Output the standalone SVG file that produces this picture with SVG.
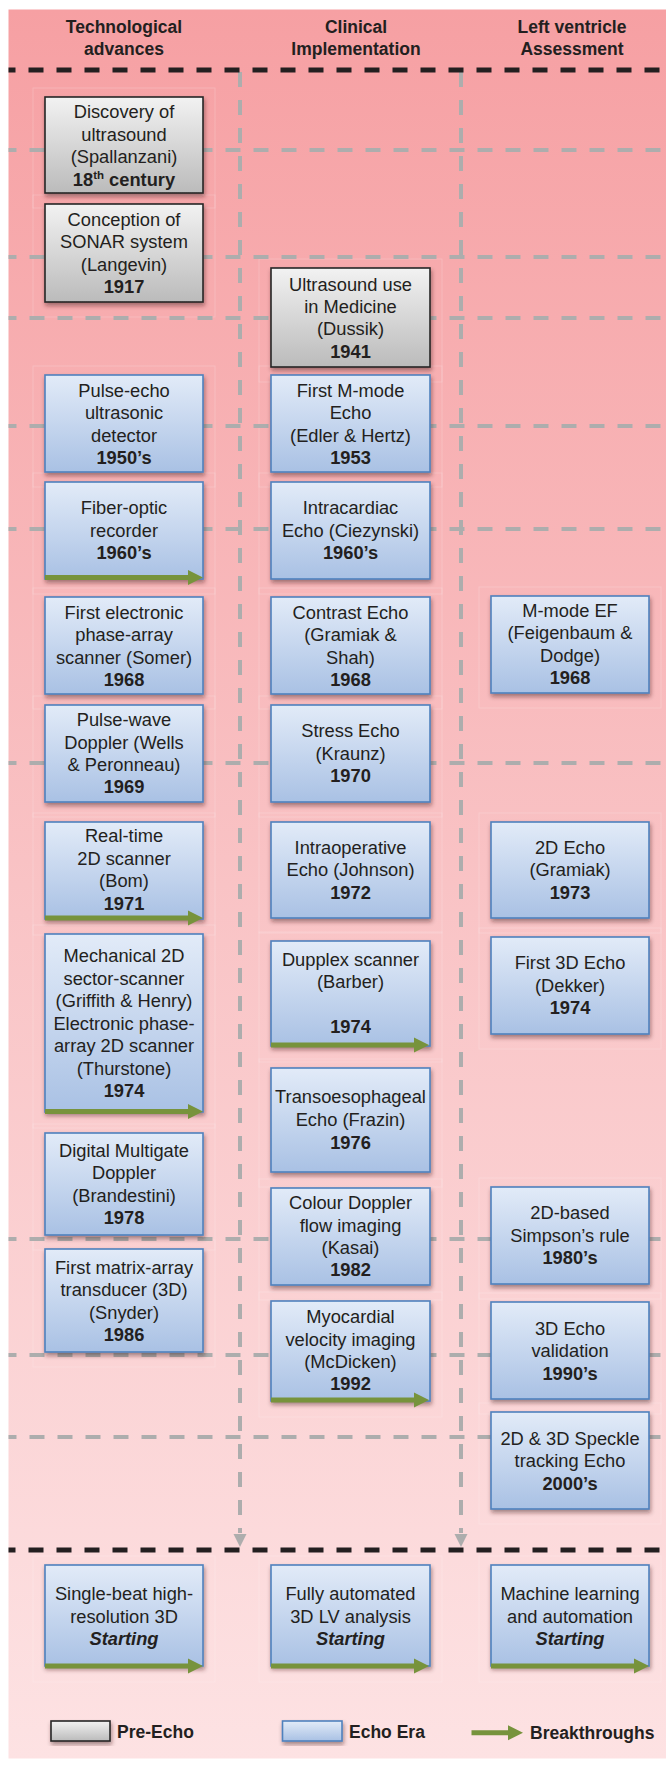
<svg xmlns="http://www.w3.org/2000/svg" xmlns:xlink="http://www.w3.org/1999/xlink" width="666" height="1765" viewBox="0 0 666 1765">
<defs>
<linearGradient id="bg" x1="0" y1="0" x2="0" y2="1">
<stop offset="0" stop-color="#F6A0A3"/>
<stop offset="0.5" stop-color="#F9C3C5"/>
<stop offset="1" stop-color="#FDE2E3"/>
</linearGradient>
<linearGradient id="gBlue" x1="0" y1="0" x2="0" y2="1">
<stop offset="0" stop-color="#E2EBF8"/>
<stop offset="1" stop-color="#A9C1E4"/>
</linearGradient>
<linearGradient id="gGray" x1="0" y1="0" x2="0" y2="1">
<stop offset="0" stop-color="#F2F2F2"/>
<stop offset="1" stop-color="#BBBBBB"/>
</linearGradient>
<filter id="sh" x="-10%" y="-10%" width="125%" height="135%">
<feDropShadow dx="1" dy="3" stdDeviation="2" flood-color="#3a1a1a" flood-opacity="0.45"/>
</filter>
<path id="brk" d="M0,-2.5 H143 V-7.5 L158,0 L143,7.5 V2.5 H0 Z" fill="#77933C"/>
<style>
.t{font-family:"Liberation Sans",Arial,sans-serif;font-size:18.3px;fill:#231F20;text-anchor:middle}
.b{font-weight:bold}
.bi{font-weight:bold;font-style:italic}
.h{font-family:"Liberation Sans",Arial,sans-serif;font-size:17.5px;font-weight:bold;fill:#231F20;text-anchor:middle}
.lg{font-family:"Liberation Sans",Arial,sans-serif;font-size:17.5px;font-weight:bold;fill:#231F20}
.blue{fill:url(#gBlue);stroke:#4F81BD;stroke-width:1.6;filter:url(#sh)}
.gray{fill:url(#gGray);stroke:#262626;stroke-width:1.6;filter:url(#sh)}
.fr{fill:none;stroke:#FFFFFF;stroke-opacity:0.18;stroke-width:1}
.gd{stroke:#ADADAD;stroke-width:4;stroke-dasharray:15 13;fill:none}
.kd{stroke:#231F20;stroke-width:5;stroke-dasharray:15 13;fill:none}
</style>
</defs>

<rect x="8.5" y="9.5" width="657.5" height="1749" fill="url(#bg)"/>

<g id="frames">
<rect class="fr" x="33" y="88" width="182" height="120"/>
<rect class="fr" x="33" y="195" width="182" height="122"/>
<rect class="fr" x="33" y="366" width="182" height="121"/>
<rect class="fr" x="33" y="473" width="182" height="121"/>
<rect class="fr" x="33" y="588" width="182" height="121"/>
<rect class="fr" x="33" y="696" width="182" height="121"/>
<rect class="fr" x="33" y="813" width="182" height="122"/>
<rect class="fr" x="33" y="925" width="182" height="203"/>
<rect class="fr" x="33" y="1124" width="182" height="126"/>
<rect class="fr" x="33" y="1240" width="182" height="127"/>
<rect class="fr" x="259" y="259" width="183" height="123"/>
<rect class="fr" x="259" y="366" width="183" height="121"/>
<rect class="fr" x="259" y="473" width="183" height="121"/>
<rect class="fr" x="259" y="588" width="183" height="121"/>
<rect class="fr" x="259" y="696" width="183" height="121"/>
<rect class="fr" x="259" y="813" width="183" height="120"/>
<rect class="fr" x="259" y="932" width="183" height="130"/>
<rect class="fr" x="259" y="1059" width="183" height="128"/>
<rect class="fr" x="259" y="1179" width="183" height="121"/>
<rect class="fr" x="259" y="1292" width="183" height="125"/>
<rect class="fr" x="479" y="587" width="182" height="121"/>
<rect class="fr" x="479" y="813" width="182" height="120"/>
<rect class="fr" x="479" y="928" width="182" height="121"/>
<rect class="fr" x="479" y="1178" width="182" height="121"/>
<rect class="fr" x="479" y="1293" width="182" height="121"/>
<rect class="fr" x="479" y="1403" width="182" height="121"/>
<rect class="fr" x="33" y="1556" width="182" height="126"/>
<rect class="fr" x="259" y="1556" width="183" height="126"/>
<rect class="fr" x="479" y="1556" width="182" height="126"/>
</g>

<g id="connectors">
<g id="grid-h">
<line class="gd" x1="8.5" y1="150" x2="666" y2="150" stroke-dashoffset="7"/>
<line class="gd" x1="8.5" y1="257" x2="666" y2="257" stroke-dashoffset="7"/>
<line class="gd" x1="8.5" y1="318" x2="666" y2="318" stroke-dashoffset="7"/>
<line class="gd" x1="8.5" y1="426" x2="666" y2="426" stroke-dashoffset="7"/>
<line class="gd" x1="8.5" y1="529" x2="666" y2="529" stroke-dashoffset="7"/>
<line class="gd" x1="8.5" y1="763" x2="666" y2="763" stroke-dashoffset="7"/>
<line class="gd" x1="8.5" y1="1239" x2="666" y2="1239" stroke-dashoffset="7"/>
<line class="gd" x1="8.5" y1="1355" x2="666" y2="1355" stroke-dashoffset="7"/>
<line class="gd" x1="8.5" y1="1437" x2="666" y2="1437" stroke-dashoffset="7"/>
</g>
<g id="timeline-arrows">
<line class="gd" x1="240" y1="72" x2="240" y2="1533"/>
<line class="gd" x1="461" y1="72" x2="461" y2="1533"/>
<polygon points="233.5,1534 246.5,1534 240,1547" fill="#ADADAD"/>
<polygon points="454.5,1534 467.5,1534 461,1547" fill="#ADADAD"/>
</g>
<line class="kd" x1="8.5" y1="70" x2="666" y2="70" stroke-dashoffset="8"/>
<line class="kd" x1="8.5" y1="1550" x2="666" y2="1550" stroke-dashoffset="8"/>
</g>

<g id="headers">
<text class="h" x="124" y="32.5">Technological</text>
<text class="h" x="124" y="55">advances</text>
<text class="h" x="356" y="32.5">Clinical</text>
<text class="h" x="356" y="55">Implementation</text>
<text class="h" x="572" y="32.5">Left ventricle</text>
<text class="h" x="572" y="55">Assessment</text>
</g>

<!-- Column 1 -->
<g id="n-discovery">
<rect class="gray" x="45" y="97" width="158" height="96"/>
<text class="t"><tspan x="124" y="118">Discovery of</tspan><tspan x="124" y="140.5">ultrasound</tspan><tspan x="124" y="163">(Spallanzani)</tspan></text>
<text class="t b" x="124" y="185.5">18<tspan font-size="11.5" dy="-7">th</tspan><tspan dy="7"> century</tspan></text>
</g>
<g id="n-sonar">
<rect class="gray" x="45" y="204" width="158" height="98"/>
<text class="t"><tspan x="124" y="225.5">Conception of</tspan><tspan x="124" y="248">SONAR system</tspan><tspan x="124" y="270.5">(Langevin)</tspan></text>
<text class="t b" x="124" y="293">1917</text>
</g>
<g id="n-pulse-echo">
<rect class="blue" x="45" y="375" width="158" height="97"/>
<text class="t"><tspan x="124" y="396.5">Pulse-echo</tspan><tspan x="124" y="419">ultrasonic</tspan><tspan x="124" y="441.5">detector</tspan></text>
<text class="t b" x="124" y="464">1950’s</text>
</g>
<g id="n-fiber">
<rect class="blue" x="45" y="482" width="158" height="97"/>
<text class="t"><tspan x="124" y="514">Fiber-optic</tspan><tspan x="124" y="536.5">recorder</tspan></text>
<text class="t b" x="124" y="559">1960’s</text>
<use href="#brk" x="45" y="577.5"/>
</g>
<g id="n-phase-array">
<rect class="blue" x="45" y="597" width="158" height="97"/>
<text class="t"><tspan x="124" y="618.5">First electronic</tspan><tspan x="124" y="641">phase-array</tspan><tspan x="124" y="663.5">scanner (Somer)</tspan></text>
<text class="t b" x="124" y="686">1968</text>
</g>
<g id="n-pulse-wave">
<rect class="blue" x="45" y="705" width="158" height="97"/>
<text class="t"><tspan x="124" y="726">Pulse-wave</tspan><tspan x="124" y="748.5">Doppler (Wells</tspan><tspan x="124" y="771">&amp; Peronneau)</tspan></text>
<text class="t b" x="124" y="793">1969</text>
</g>
<g id="n-realtime">
<rect class="blue" x="45" y="822" width="158" height="97"/>
<text class="t"><tspan x="124" y="842">Real-time</tspan><tspan x="124" y="864.5">2D scanner</tspan><tspan x="124" y="887">(Bom)</tspan></text>
<text class="t b" x="124" y="909.5">1971</text>
<use href="#brk" x="45" y="918"/>
</g>
<g id="n-mechanical">
<rect class="blue" x="45" y="934" width="158" height="178"/>
<text class="t"><tspan x="124" y="962">Mechanical 2D</tspan><tspan x="124" y="984.5">sector-scanner</tspan><tspan x="124" y="1007">(Griffith &amp; Henry)</tspan><tspan x="124" y="1029.5">Electronic phase-</tspan><tspan x="124" y="1052">array 2D scanner</tspan><tspan x="124" y="1074.5">(Thurstone)</tspan></text>
<text class="t b" x="124" y="1097">1974</text>
<use href="#brk" x="45" y="1111.5"/>
</g>
<g id="n-multigate">
<rect class="blue" x="45" y="1133" width="158" height="102"/>
<text class="t"><tspan x="124" y="1156.5">Digital Multigate</tspan><tspan x="124" y="1179">Doppler</tspan><tspan x="124" y="1201.5">(Brandestini)</tspan></text>
<text class="t b" x="124" y="1224">1978</text>
</g>
<g id="n-matrix">
<rect class="blue" x="45" y="1249" width="158" height="103"/>
<text class="t"><tspan x="124" y="1273.5">First matrix-array</tspan><tspan x="124" y="1296">transducer (3D)</tspan><tspan x="124" y="1318.5">(Snyder)</tspan></text>
<text class="t b" x="124" y="1341">1986</text>
</g>

<!-- Column 2 -->
<g id="n-dussik">
<rect class="gray" x="271" y="268" width="159" height="99"/>
<text class="t"><tspan x="350.5" y="290.5">Ultrasound use</tspan><tspan x="350.5" y="312.5">in Medicine</tspan><tspan x="350.5" y="335">(Dussik)</tspan></text>
<text class="t b" x="350.5" y="357.5">1941</text>
</g>
<g id="n-mmode">
<rect class="blue" x="271" y="375" width="159" height="97"/>
<text class="t"><tspan x="350.5" y="396.5">First M-mode</tspan><tspan x="350.5" y="419">Echo</tspan><tspan x="350.5" y="441.5">(Edler &amp; Hertz)</tspan></text>
<text class="t b" x="350.5" y="464">1953</text>
</g>
<g id="n-intracardiac">
<rect class="blue" x="271" y="482" width="159" height="97"/>
<text class="t"><tspan x="350.5" y="514">Intracardiac</tspan><tspan x="350.5" y="536.5">Echo (Ciezynski)</tspan></text>
<text class="t b" x="350.5" y="559">1960’s</text>
</g>
<g id="n-contrast">
<rect class="blue" x="271" y="597" width="159" height="97"/>
<text class="t"><tspan x="350.5" y="618.5">Contrast Echo</tspan><tspan x="350.5" y="641">(Gramiak &amp;</tspan><tspan x="350.5" y="663.5">Shah)</tspan></text>
<text class="t b" x="350.5" y="686">1968</text>
</g>
<g id="n-stress">
<rect class="blue" x="271" y="705" width="159" height="97"/>
<text class="t"><tspan x="350.5" y="737">Stress Echo</tspan><tspan x="350.5" y="759.5">(Kraunz)</tspan></text>
<text class="t b" x="350.5" y="782">1970</text>
</g>
<g id="n-intraop">
<rect class="blue" x="271" y="822" width="159" height="96"/>
<text class="t"><tspan x="350.5" y="853.5">Intraoperative</tspan><tspan x="350.5" y="876">Echo (Johnson)</tspan></text>
<text class="t b" x="350.5" y="898.5">1972</text>
</g>
<g id="n-dupplex">
<rect class="blue" x="271" y="941" width="159" height="105"/>
<text class="t"><tspan x="350.5" y="965.5">Dupplex scanner</tspan><tspan x="350.5" y="988">(Barber)</tspan></text>
<text class="t b" x="350.5" y="1032.5">1974</text>
<use href="#brk" x="271" y="1045"/>
</g>
<g id="n-tee">
<rect class="blue" x="271" y="1068" width="159" height="104"/>
<text class="t"><tspan x="350.5" y="1103">Transoesophageal</tspan><tspan x="350.5" y="1126">Echo (Frazin)</tspan></text>
<text class="t b" x="350.5" y="1148.5">1976</text>
</g>
<g id="n-colour">
<rect class="blue" x="271" y="1188" width="159" height="97"/>
<text class="t"><tspan x="350.5" y="1209">Colour Doppler</tspan><tspan x="350.5" y="1231.5">flow imaging</tspan><tspan x="350.5" y="1254">(Kasai)</tspan></text>
<text class="t b" x="350.5" y="1276">1982</text>
</g>
<g id="n-myocardial">
<rect class="blue" x="271" y="1301" width="159" height="100"/>
<text class="t"><tspan x="350.5" y="1323">Myocardial</tspan><tspan x="350.5" y="1345.5">velocity imaging</tspan><tspan x="350.5" y="1368">(McDicken)</tspan></text>
<text class="t b" x="350.5" y="1390">1992</text>
<use href="#brk" x="271" y="1400"/>
</g>

<!-- Column 3 -->
<g id="n-mmode-ef">
<rect class="blue" x="491" y="596" width="158" height="97"/>
<text class="t"><tspan x="570" y="616.5">M-mode EF</tspan><tspan x="570" y="639">(Feigenbaum &amp;</tspan><tspan x="570" y="661.5">Dodge)</tspan></text>
<text class="t b" x="570" y="684">1968</text>
</g>
<g id="n-2d-echo">
<rect class="blue" x="491" y="822" width="158" height="96"/>
<text class="t"><tspan x="570" y="853.5">2D Echo</tspan><tspan x="570" y="876">(Gramiak)</tspan></text>
<text class="t b" x="570" y="898.5">1973</text>
</g>
<g id="n-3d-echo">
<rect class="blue" x="491" y="937" width="158" height="97"/>
<text class="t"><tspan x="570" y="969">First 3D Echo</tspan><tspan x="570" y="991.5">(Dekker)</tspan></text>
<text class="t b" x="570" y="1014">1974</text>
</g>
<g id="n-simpson">
<rect class="blue" x="491" y="1187" width="158" height="97"/>
<text class="t"><tspan x="570" y="1219">2D-based</tspan><tspan x="570" y="1241.5">Simpson’s rule</tspan></text>
<text class="t b" x="570" y="1264">1980’s</text>
</g>
<g id="n-3d-validation">
<rect class="blue" x="491" y="1302" width="158" height="97"/>
<text class="t"><tspan x="570" y="1334.5">3D Echo</tspan><tspan x="570" y="1357">validation</tspan></text>
<text class="t b" x="570" y="1379.5">1990’s</text>
</g>
<g id="n-speckle">
<rect class="blue" x="491" y="1412" width="158" height="97"/>
<text class="t"><tspan x="570" y="1444.5">2D &amp; 3D Speckle</tspan><tspan x="570" y="1467">tracking Echo</tspan></text>
<text class="t b" x="570" y="1489.5">2000’s</text>
</g>

<!-- Future row -->
<g id="n-single-beat">
<rect class="blue" x="45" y="1565" width="158" height="101"/>
<text class="t"><tspan x="124" y="1600">Single-beat high-</tspan><tspan x="124" y="1622.5">resolution 3D</tspan></text>
<text class="t bi" x="124" y="1644.5">Starting</text>
<use href="#brk" x="45" y="1666"/>
</g>
<g id="n-automated-lv">
<rect class="blue" x="271" y="1565" width="159" height="101"/>
<text class="t"><tspan x="350.5" y="1600">Fully automated</tspan><tspan x="350.5" y="1622.5">3D LV analysis</tspan></text>
<text class="t bi" x="350.5" y="1644.5">Starting</text>
<use href="#brk" x="271" y="1666"/>
</g>
<g id="n-machine-learning">
<rect class="blue" x="491" y="1565" width="158" height="101"/>
<text class="t"><tspan x="570" y="1600">Machine learning</tspan><tspan x="570" y="1622.5">and automation</tspan></text>
<text class="t bi" x="570" y="1644.5">Starting</text>
<use href="#brk" x="491" y="1666"/>
</g>

<!-- Legend -->
<g id="legend">
<g id="legend-pre-echo">
<rect class="gray" x="51" y="1721" width="59" height="20"/>
<text class="lg" x="117" y="1737.5">Pre-Echo</text>
</g>
<g id="legend-echo-era">
<rect class="blue" x="282.5" y="1721" width="59.5" height="20"/>
<text class="lg" x="349" y="1737.5">Echo Era</text>
</g>
<g id="legend-breakthroughs">
<path d="M471.5,1730.2 H508 V1725.2 L523,1732.7 L508,1740.2 V1735.2 H471.5 Z" fill="#77933C"/>
<text class="lg" x="530" y="1738.5">Breakthroughs</text>
</g>
</g>
</svg>
